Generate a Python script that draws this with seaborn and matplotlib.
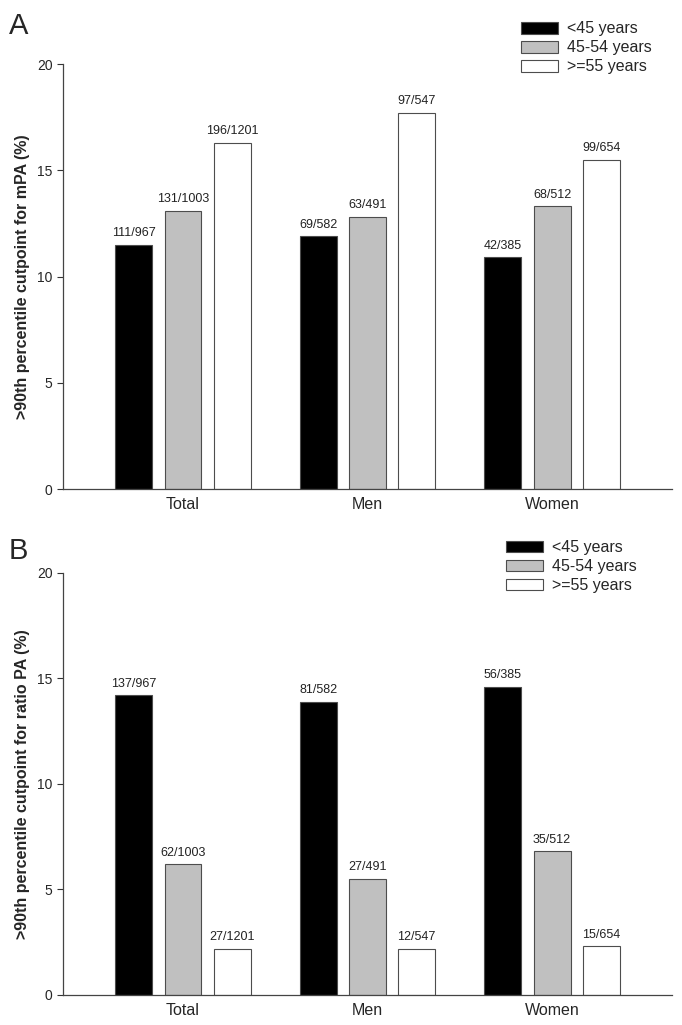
import pandas as pd
import seaborn as sns
import matplotlib.pyplot as plt

# Groups and age bands
groups = ["Total", "Men", "Women"]
ages = ["<45 years", "45-54 years", ">=55 years"]

# Panel A: >90th percentile cutpoint for mPA (%), one list per age band
mpa_lt45 = [11.5, 11.9, 10.9]
mpa_45_54 = [13.1, 12.8, 13.3]
mpa_ge55 = [16.3, 17.7, 15.5]
mpa_n_lt45 = ["111/967", "69/582", "42/385"]
mpa_n_45_54 = ["131/1003", "63/491", "68/512"]
mpa_n_ge55 = ["196/1201", "97/547", "99/654"]

# Panel B: >90th percentile cutpoint for ratio PA (%)
ratio_lt45 = [14.2, 13.9, 14.6]
ratio_45_54 = [6.2, 5.5, 6.8]
ratio_ge55 = [2.2, 2.2, 2.3]
ratio_n_lt45 = ["137/967", "81/582", "56/385"]
ratio_n_45_54 = ["62/1003", "27/491", "35/512"]
ratio_n_ge55 = ["27/1201", "12/547", "15/654"]

colors = ["black", "#c0c0c0", "white"]


def long_frame(series):
    '''
    Turn the per-age lists into a long data frame for seaborn
    '''
    rows = []
    for age, values in zip(ages, series):
        for group, value in zip(groups, values):
            rows.append({"group": group, "age": age, "pct": value})
    return pd.DataFrame(rows)


def draw_panel(ax, series, counts, ylabel):
    df = long_frame(series)
    sns.barplot(data=df, x="group", y="pct", hue="age", order=groups,
                hue_order=ages, palette=colors, saturation=1, gap=0.25,
                edgecolor="#4d4d4d", linewidth=0.8, ax=ax, legend=False)
    for container, labels in zip(ax.containers, counts):
        ax.bar_label(container, labels=labels, padding=4, fontsize=9,
                     color="#222222")
    ax.set_xlim(-0.65, 2.65)
    ax.set_ylim(0, 20)
    ax.set_yticks([0, 5, 10, 15, 20])
    ax.set_xlabel("")
    ax.set_ylabel(ylabel, fontsize=11.5, fontweight="bold", labelpad=5)
    ax.tick_params(axis="x", length=0, labelsize=11.5, pad=6)
    ax.tick_params(axis="y", length=4, width=0.8, labelsize=10,
                   color="#333333", direction="out")
    for side in ["top", "right"]:
        ax.spines[side].set_visible(False)
    for side in ["left", "bottom"]:
        ax.spines[side].set_color("#444444")
        ax.spines[side].set_linewidth(0.9)


sns.set_style("ticks")
plt.rcParams["font.family"] = ["Liberation Sans", "DejaVu Sans"]

fig = plt.figure(figsize=(6.82, 10.25), dpi=100)
ax_a = fig.add_axes([0.0924, 0.5229, 0.893, 0.4146])
ax_b = fig.add_axes([0.0924, 0.0293, 0.893, 0.4117])

draw_panel(ax_a, [mpa_lt45, mpa_45_54, mpa_ge55],
           [mpa_n_lt45, mpa_n_45_54, mpa_n_ge55],
           ">90th percentile cutpoint for mPA (%)")
draw_panel(ax_b, [ratio_lt45, ratio_45_54, ratio_ge55],
           [ratio_n_lt45, ratio_n_45_54, ratio_n_ge55],
           ">90th percentile cutpoint for ratio PA (%)")

# Legends built from the bars of each panel
for ax, anchor in [(ax_a, (0.752, 0.987)), (ax_b, (0.730, 0.481))]:
    handles = [c.patches[0] for c in ax.containers]
    fig.legend(handles, ages, loc="upper left", bbox_to_anchor=anchor,
               frameon=False, borderpad=0, fontsize=11.5, handlelength=2.3,
               handleheight=0.75, handletextpad=0.6, labelspacing=0.25)

fig.text(0.013, 0.988, "A", fontsize=21, va="top")
fig.text(0.013, 0.476, "B", fontsize=21, va="top")

fig.savefig("out.png", dpi=100)
